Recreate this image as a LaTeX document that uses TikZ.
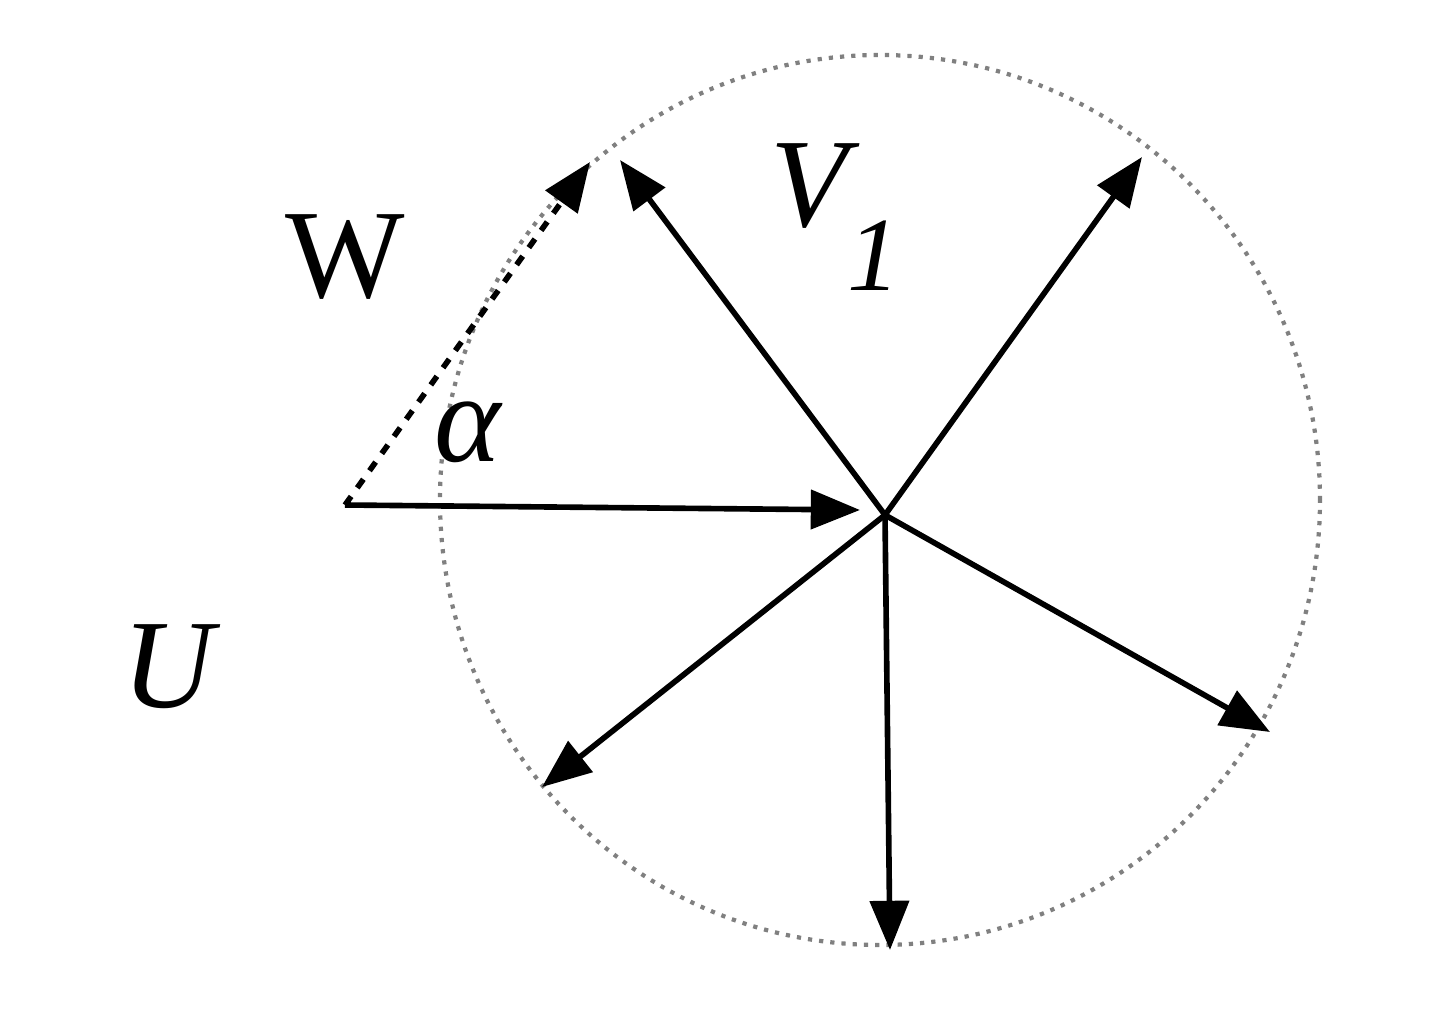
\documentclass[tikz,border=0pt]{standalone}
\usepackage{fontspec}
\newfontfamily\lbfont{Liberation Serif}
\usetikzlibrary{arrows.meta}
\tikzset{vec/.style={-{Triangle[length=14pt,width=11pt]}, line width=1.6pt},
 lbl/.style={font=\lbfont\fontsize{36}{40}\selectfont, inner sep=0pt}}
\begin{document}
\begin{tikzpicture}
\useasboundingbox (0,0) rectangle (14.4,10.12);
\draw[gray, dotted, line width=1.2pt] (8.8,5.12) ellipse [x radius=4.4, y radius=4.45];
\coordinate (C) at (8.85,4.97);
\coordinate (A) at (3.45,5.07);
\node[lbl] (W) at (3.45,7.55) {W};
\node[lbl] (V) at (8.35,7.95) {\itshape V\raisebox{-0.5em}{\fontsize{30}{32}\selectfont 1}};
\node[lbl] (al) at (4.68,5.8) {\itshape α};
\node[lbl] (U) at (1.68,3.45) {\itshape U};
\draw[vec] (A) -- (8.6,5.02);
\draw[vec, dashed] (A) -- (5.9,8.5);
\draw[vec] (C) -- (6.2,8.52);
\draw[vec] (C) -- (11.42,8.55);
\draw[vec] (C) -- (12.7,2.8);
\draw[vec] (C) -- (8.9,0.62);
\draw[vec] (C) -- (5.42,2.25);
\end{tikzpicture}
\end{document}
